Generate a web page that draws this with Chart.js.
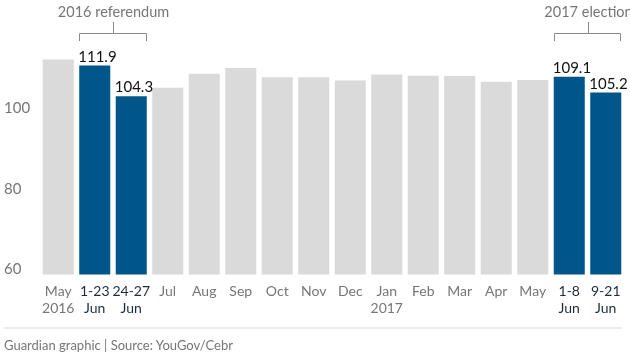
<!DOCTYPE html>
<html>
<head>
<meta charset="utf-8">
<script src="https://cdn.jsdelivr.net/npm/chart.js@4/dist/chart.umd.min.js"></script>
<style>
  html, body { margin: 0; padding: 0; background: #fff; }
  #wrap { position: relative; width: 630px; height: 354px; }
  #footer {
    position: absolute; left: 4px; top: 327px; width: 618px;
    border-top: 2px solid #ececec;
    font: 13px Lato, sans-serif; color: #767676;
    padding-top: 8px;
  }
</style>
</head>
<body>
<div id="wrap">
  <canvas id="chart" width="630" height="354"></canvas>
  <div id="footer">Guardian graphic | Source: YouGov/Cebr</div>
</div>
<script>
// Data
const labels = [
  ['May', '2016'], ['1-23', 'Jun'], ['24-27', 'Jun'], 'Jul', 'Aug', 'Sep', 'Oct', 'Nov', 'Dec',
  ['Jan', '2017'], 'Feb', 'Mar', 'Apr', 'May', ['1-8', 'Jun'], ['9-21', 'Jun']
];
const values = [113.4, 111.9, 104.3, 106.4, 109.9, 111.3, 109.0, 109.0, 108.2,
  109.7, 109.4, 109.3, 107.9, 108.3, 109.1, 105.2];
const highlighted = [1, 2, 14, 15];
const yTicks = [60, 80, 100];
const brackets = [
  { text: '2016 referendum', from: 1, to: 2 },
  { text: '2017 election', from: 14, to: 15 }
];

const FONT = 'Lato, sans-serif';
const BLUE = '#005689';
const GREY = '#dadada';

// value labels above blue bars, y tick labels and the bracket notes
const extras = {
  id: 'extras',
  afterDraw(chart) {
    const ctx = chart.ctx;
    const bars = chart.getDatasetMeta(0).data;
    const y = chart.scales.y;
    ctx.save();

    ctx.font = '15px ' + FONT;
    ctx.fillStyle = '#121212';
    ctx.textAlign = 'left';
    ctx.textBaseline = 'alphabetic';
    highlighted.forEach(i => {
      const b = bars[i];
      ctx.fillText(values[i].toFixed(1), b.x - b.width / 2 - 1, b.y - 4);
    });

    ctx.font = '15px ' + FONT;
    ctx.fillStyle = '#767676';
    ctx.textBaseline = 'middle';
    yTicks.forEach(t => {
      ctx.fillText(String(t), 4, y.getPixelForValue(t) - 5);
    });

    ctx.font = '14.5px ' + FONT;
    ctx.strokeStyle = '#8a8a8a';
    ctx.lineWidth = 1;
    ctx.textAlign = 'center';
    brackets.forEach(br => {
      const a = bars[br.from], b = bars[br.to];
      const x1 = Math.round(a.x - a.width / 2) + 0.5;
      const x2 = Math.round(b.x + b.width / 2) - 0.5;
      const mid = Math.round((x1 + x2) / 2) + 0.5;
      ctx.beginPath();
      ctx.moveTo(x1, 41);
      ctx.lineTo(x1, 33.5);
      ctx.lineTo(x2, 33.5);
      ctx.lineTo(x2, 41);
      ctx.moveTo(mid, 33.5);
      ctx.lineTo(mid, 22);
      ctx.stroke();
      ctx.fillText(br.text, mid, 12);
    });
    ctx.restore();
  }
};

new Chart(document.getElementById('chart'), {
  type: 'bar',
  data: {
    labels: labels,
    datasets: [{
      data: values,
      backgroundColor: values.map((v, i) => highlighted.includes(i) ? BLUE : GREY),
      borderWidth: 0,
      barPercentage: 0.85,
      categoryPercentage: 1.0
    }]
  },
  options: {
    responsive: false,
    animation: false,
    layout: { padding: { left: 40, right: 6, top: 33, bottom: 36 } },
    plugins: { legend: { display: false }, tooltip: { enabled: false } },
    scales: {
      x: {
        grid: { display: false },
        border: { display: false },
        ticks: {
          font: { family: FONT, size: 14 },
          color: ctx => highlighted.includes(ctx.index) ? '#1c2a3a' : '#767676',
          padding: 1,
          maxRotation: 0,
          autoSkip: false
        }
      },
      y: {
        min: 60,
        max: 120,
        z: 1,
        border: { display: false },
        grid: {
          drawTicks: false,
          color: ctx => (ctx.tick.value === 80 || ctx.tick.value === 100) ? 'rgba(255,255,255,0.55)' : 'rgba(0,0,0,0)'
        },
        ticks: { display: false, stepSize: 20 }
      }
    }
  },
  plugins: [extras]
});
</script>
</body>
</html>
